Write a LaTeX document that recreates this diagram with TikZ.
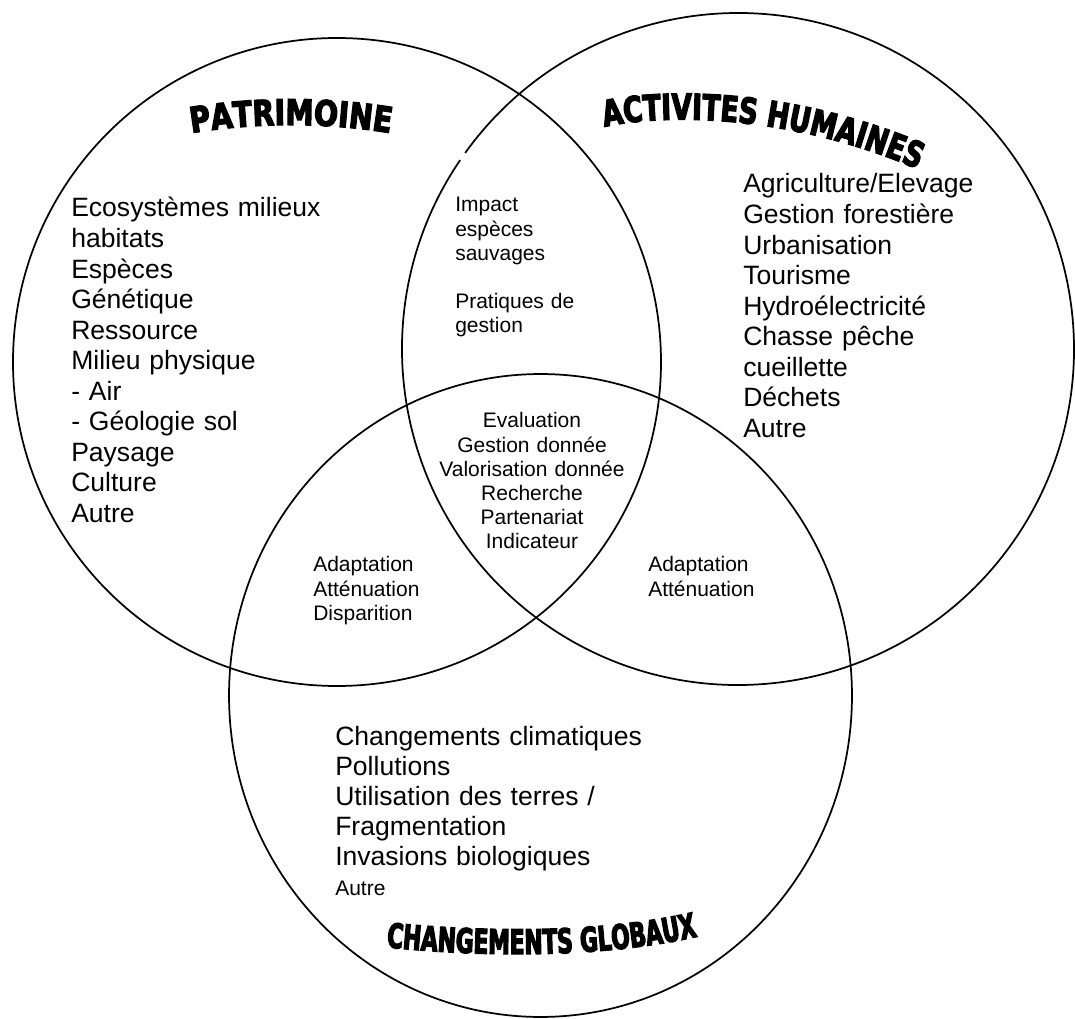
\documentclass[tikz,border=0pt]{standalone}
\usepackage{fontspec}
\setmainfont{Liberation Sans}
\newfontfamily\patfont{DejaVu Sans Bold}[FakeStretch=0.80,FakeBold=3.5]
\newfontfamily\actfont{DejaVu Sans Bold}[FakeStretch=0.74,FakeBold=3.5]
\newfontfamily\chgfont{DejaVu Sans Bold}[FakeStretch=0.64,FakeBold=3.5]
\usetikzlibrary{decorations.text}
\tikzset{
  ring/.style={line width=1.3pt, draw=black},
  biglist/.style={font=\fontsize{19.9pt}{22.9pt}\selectfont, align=left, inner sep=0pt, anchor=base west, text width=260pt},
  botlist/.style={font=\fontsize{19.9pt}{22.5pt}\selectfont, align=left, inner sep=0pt, anchor=base west, text width=260pt},
  smalllist/.style={font=\fontsize{15.75pt}{18.15pt}\selectfont, align=left, inner sep=0pt, anchor=base west, text width=140pt},
  smallcenter/.style={font=\fontsize{15.75pt}{18.15pt}\selectfont, align=center, inner sep=0pt, anchor=base, text width=170pt},
}
\begin{document}
\begin{tikzpicture}[x=0.75pt,y=-0.75pt]
\useasboundingbox (0,0) rectangle (1075,1019);
% the three sets
\draw[ring] (337,362) circle[radius=243pt];
\draw[ring] (738,349) ++(145.8:252pt) arc[start angle=145.8, end angle=504.3, radius=252pt];
\draw[ring] (540.5,695.5) ellipse[x radius=233.6pt, y radius=241.1pt];
% titles
\path[decorate, decoration={text along path, text align=center,
  text={|\patfont\fontsize{26.5pt}{27pt}\selectfont|PATRIMOINE}}]
  (175,136) .. controls (252,121.3) and (330,121.3) .. (407,136);
\path[decorate, decoration={text along path, text align=center,
  text={|\actfont\fontsize{26.7pt}{27pt}\selectfont|ACTIVITES HUMAINES}}]
  (600,128) .. controls (660,113) and (790,113) .. (922,171);
\path[decorate, decoration={text along path, text align=center,
  text={|\chgfont\fontsize{25.5pt}{26pt}\selectfont|CHANGEMENTS GLOBAUX}}]
  (384,947) .. controls (480,957) and (600,959) .. (700,936);
% lists
\node[biglist] (patlist) at (71,217) {Ecosystèmes milieux\\habitats\\Espèces\\Génétique\\Ressource\\Milieu physique\\- Air\\- Géologie sol\\Paysage\\Culture\\Autre};
\node[biglist] (actlist) at (743,193) {Agriculture/Elevage\\Gestion forestière\\Urbanisation\\Tourisme\\Hydroélectricité\\Chasse pêche\\cueillette\\Déchets\\Autre};
\node[botlist] (chglist) at (335,745) {Changements climatiques\\Pollutions\\Utilisation des terres /\\Fragmentation\\Invasions biologiques\\{\fontsize{15.75pt}{18pt}\selectfont Autre}};
\node[smalllist] (patact) at (455,212) {Impact\\espèces\\sauvages\\[18.15pt]Pratiques de\\gestion};
\node[smallcenter] (all) at (532,428) {Evaluation\\Gestion donnée\\Valorisation donnée\\Recherche\\Partenariat\\Indicateur};
\node[smalllist] (patchg) at (313,572) {Adaptation\\Atténuation\\Disparition};
\node[smalllist] (actchg) at (648,572) {Adaptation\\Atténuation};
\end{tikzpicture}
\end{document}
